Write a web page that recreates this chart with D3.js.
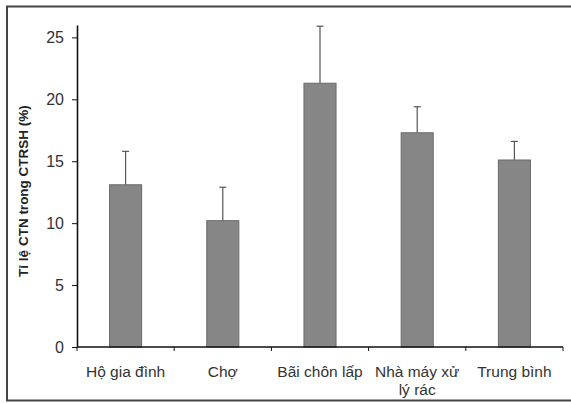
<!DOCTYPE html>
<html>
<head>
<meta charset="utf-8">
<script src="https://cdn.jsdelivr.net/npm/d3@7/dist/d3.min.js"></script>
<style>
  html, body { margin: 0; padding: 0; background: #fff; }
  svg { display: block; }
</style>
</head>
<body>
<svg id="chart" width="571" height="403"></svg>
<script>
// Categories and values
const categories = ["Hộ gia đình", "Chợ", "Bãi chôn lấp", "Nhà máy xử lý rác", "Trung bình"];
const categoryLines = [["Hộ gia đình"], ["Chợ"], ["Bãi chôn lấp"], ["Nhà máy xử", "lý rác"], ["Trung bình"]];
const means = [13.1, 10.2, 21.3, 17.3, 15.1];
const errors = [2.7, 2.7, 4.6, 2.1, 1.5];
const yTicks = [0, 5, 10, 15, 20, 25];
const yTitle = "Tỉ lệ CTN trong CTRSH (%)";

const svg = d3.select("#chart");
const W = 571, H = 403;
const plot = { left: 77, right: 563, top: 25, bottom: 347 };
const font = "Liberation Sans, Arial, sans-serif";

// outer frame
svg.append("rect")
  .attr("x", 7).attr("y", 6.5)
  .attr("width", W - 6).attr("height", 394)
  .attr("fill", "#fff")
  .attr("stroke", "#444").attr("stroke-width", 2);

const x = d3.scaleBand().domain(categories).range([plot.left, plot.right]).paddingInner(0).paddingOuter(0);
const y = d3.scaleLinear().domain([0, 26]).range([plot.bottom, plot.top]);

const barW = x.bandwidth() * 0.33;
const data = categories.map((c, i) => ({ c, m: means[i], e: errors[i], lines: categoryLines[i] }));

// error bars (upper only)
const eb = svg.append("g");
data.forEach(d => {
  const cx = x(d.c) + x.bandwidth() / 2;
  eb.append("line")
    .attr("x1", cx).attr("x2", cx)
    .attr("y1", y(d.m)).attr("y2", y(d.m + d.e))
    .attr("stroke", "#555").attr("stroke-width", 1.2);
  eb.append("line")
    .attr("x1", cx - 3.5).attr("x2", cx + 3.5)
    .attr("y1", y(d.m + d.e)).attr("y2", y(d.m + d.e))
    .attr("stroke", "#555").attr("stroke-width", 1.2);
});

// bars
svg.append("g").selectAll("rect").data(data).join("rect")
  .attr("x", d => x(d.c) + (x.bandwidth() - barW) / 2)
  .attr("y", d => y(d.m))
  .attr("width", barW)
  .attr("height", d => y(0) - y(d.m))
  .attr("fill", "#868686")
  .attr("stroke", "#6a6a6a").attr("stroke-width", 1);

// y axis
const yAxis = svg.append("g")
  .attr("transform", `translate(${plot.left},0)`)
  .call(d3.axisLeft(y).tickValues(yTicks).tickSize(5).tickPadding(8).tickSizeOuter(0));
yAxis.select(".domain").attr("stroke", "#111").attr("stroke-width", 1.6);
yAxis.selectAll(".tick line").attr("stroke", "#111");
yAxis.selectAll(".tick text")
  .attr("font-family", font)
  .attr("font-size", 16).attr("fill", "#333");

// x axis line with ticks at category boundaries
const xg = svg.append("g");
xg.append("line")
  .attr("x1", plot.left).attr("x2", plot.right)
  .attr("y1", y(0)).attr("y2", y(0))
  .attr("stroke", "#111").attr("stroke-width", 1.6);
categories.forEach((c, i) => {
  const bx = x(c) + x.bandwidth();
  xg.append("line")
    .attr("x1", bx).attr("x2", bx)
    .attr("y1", y(0)).attr("y2", y(0) + 4)
    .attr("stroke", "#111");
});
xg.append("line")
  .attr("x1", plot.left).attr("x2", plot.left)
  .attr("y1", y(0)).attr("y2", y(0) + 4)
  .attr("stroke", "#111");

// category labels
data.forEach(d => {
  const cx = x(d.c) + x.bandwidth() / 2;
  const t = svg.append("text")
    .attr("x", cx).attr("y", 377)
    .attr("text-anchor", "middle")
    .attr("font-family", font)
    .attr("font-size", 15.5).attr("fill", "#333");
  d.lines.forEach((ln, k) => {
    t.append("tspan").attr("x", cx).attr("dy", k === 0 ? 0 : 18).text(ln);
  });
});

// y title
svg.append("text")
  .attr("transform", "translate(28,191) rotate(-90)")
  .attr("text-anchor", "middle")
  .attr("font-family", font)
  .attr("font-size", 13.5).attr("font-weight", "bold").attr("fill", "#222")
  .text(yTitle);
</script>
</body>
</html>
